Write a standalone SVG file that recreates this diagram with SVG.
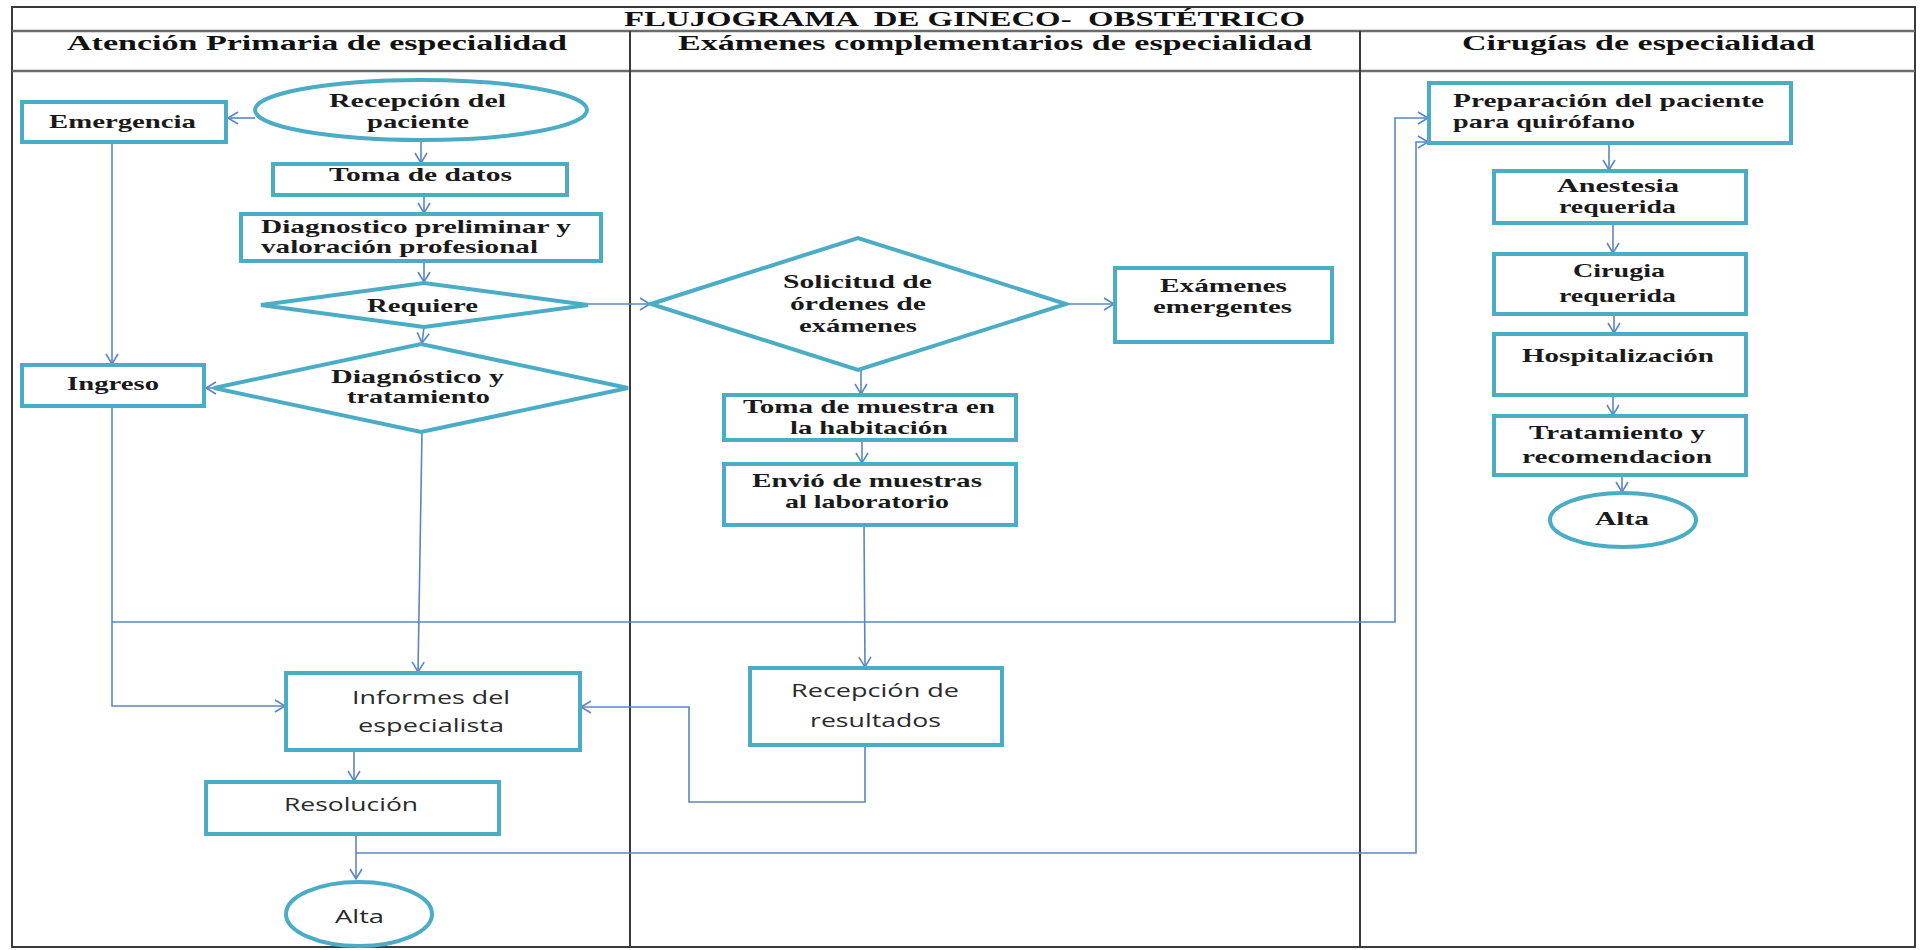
<svg xmlns="http://www.w3.org/2000/svg" width="1921" height="950" viewBox="0 0 1921 950">
<style>
.frame{fill:none;stroke:#3a3a3a;stroke-width:2}
.rule{stroke:#6b6b6b;stroke-width:2.5}
.node{fill:#fff;stroke:#4BACC6;stroke-width:4}
.con{fill:none;stroke:#5B86C5;stroke-width:1.6}
.t{font-family:"Liberation Serif","Times New Roman",serif;font-weight:bold;font-size:19px;fill:#1a1a1a}
.h{font-family:"Liberation Serif","Times New Roman",serif;font-weight:bold;font-size:20px;fill:#111}
.s{font-family:"Open Sans","Liberation Sans",sans-serif;font-size:19px;fill:#2a2a2a}
</style>
<defs>
<marker id="arr" markerUnits="userSpaceOnUse" markerWidth="14" markerHeight="14" refX="11" refY="7" orient="auto">
<path d="M1,1 L11,7 L1,13" fill="none" stroke="#5B86C5" stroke-width="1.6"/>
</marker>
</defs>
<rect width="1921" height="950" fill="#fff"/>
<g id="frame">
<rect class="frame" x="12" y="7" width="1903" height="940"/>
<line class="rule" x1="12" y1="31" x2="1915" y2="31"/>
<line class="rule" x1="12" y1="71" x2="1915" y2="71"/>
<line class="frame" x1="630" y1="31" x2="630" y2="947"/>
<line class="frame" x1="1360" y1="31" x2="1360" y2="947"/>
<text class="h" x="624" y="26" textLength="681" lengthAdjust="spacingAndGlyphs" style="white-space:pre">FLUJOGRAMA  DE GINECO-  OBSTÉTRICO</text>
<text class="h" x="67" y="50" textLength="500" lengthAdjust="spacingAndGlyphs">Atención Primaria de especialidad</text>
<text class="h" x="678" y="50" textLength="634" lengthAdjust="spacingAndGlyphs">Exámenes complementarios de especialidad</text>
<text class="h" x="1462" y="50" textLength="353" lengthAdjust="spacingAndGlyphs">Cirugías de especialidad</text>
</g>
<g id="connectors">
<path class="con" d="M255,118 L228,118" marker-end="url(#arr)"/>
<path class="con" d="M421,140 L421,163" marker-end="url(#arr)"/>
<path class="con" d="M424,195 L424,213" marker-end="url(#arr)"/>
<path class="con" d="M424,261 L424,282" marker-end="url(#arr)"/>
<path class="con" d="M588,304 L650,304" marker-end="url(#arr)"/>
<path class="con" d="M424,327 L422,343" marker-end="url(#arr)"/>
<path class="con" d="M214,388 L206,388" marker-end="url(#arr)"/>
<path class="con" d="M112,142 L112,364" marker-end="url(#arr)"/>
<path class="con" d="M112,406 L112,706 L285,706" marker-end="url(#arr)"/>
<path class="con" d="M112,622 L1395,622 L1395,118 L1428,118" marker-end="url(#arr)"/>
<path class="con" d="M422,432 L418,672" marker-end="url(#arr)"/>
<path class="con" d="M354,752 L354,781" marker-end="url(#arr)"/>
<path class="con" d="M356,834 L356,879" marker-end="url(#arr)"/>
<path class="con" d="M356,853 L1416,853 L1416,142 L1428,142" marker-end="url(#arr)"/>
<path class="con" d="M1066,304 L1114,304" marker-end="url(#arr)"/>
<path class="con" d="M861,370 L861,394" marker-end="url(#arr)"/>
<path class="con" d="M862,440 L862,463" marker-end="url(#arr)"/>
<path class="con" d="M864,525 L865,667" marker-end="url(#arr)"/>
<path class="con" d="M865,745 L865,802 L689,802 L689,707 L581,707" marker-end="url(#arr)"/>
<path class="con" d="M1609,143 L1609,170" marker-end="url(#arr)"/>
<path class="con" d="M1613,223 L1613,253" marker-end="url(#arr)"/>
<path class="con" d="M1614,314 L1614,333" marker-end="url(#arr)"/>
<path class="con" d="M1613,395 L1613,415" marker-end="url(#arr)"/>
<path class="con" d="M1622,475 L1622,492" marker-end="url(#arr)"/>
</g>
<g id="n-emergencia">
<rect class="node" x="22" y="102" width="204" height="40"/>
<text class="t" x="49" y="128" textLength="147" lengthAdjust="spacingAndGlyphs">Emergencia</text>
</g>
<g id="n-recepcion">
<ellipse class="node" cx="421" cy="110" rx="166" ry="30"/>
<text class="t" x="329" y="107" textLength="177" lengthAdjust="spacingAndGlyphs">Recepción del</text>
<text class="t" x="367" y="128" textLength="102" lengthAdjust="spacingAndGlyphs">paciente</text>
</g>
<g id="n-toma-datos">
<rect class="node" x="273" y="164" width="294" height="31"/>
<text class="t" x="329" y="181" textLength="183" lengthAdjust="spacingAndGlyphs">Toma de datos</text>
</g>
<g id="n-diagnostico-prel">
<rect class="node" x="241" y="214" width="360" height="47"/>
<text class="t" x="261" y="233" textLength="310" lengthAdjust="spacingAndGlyphs">Diagnostico preliminar y</text>
<text class="t" x="261" y="253" textLength="277" lengthAdjust="spacingAndGlyphs">valoración profesional</text>
</g>
<g id="n-requiere">
<polygon class="node" points="261,305 424,283 588,305 424,327"/>
<text class="t" x="367" y="312" textLength="111" lengthAdjust="spacingAndGlyphs">Requiere</text>
</g>
<g id="n-diag-trat">
<polygon class="node" points="214,388 421,344 628,388 421,432"/>
<text class="t" x="331" y="383" textLength="173" lengthAdjust="spacingAndGlyphs">Diagnóstico y</text>
<text class="t" x="347" y="403" textLength="143" lengthAdjust="spacingAndGlyphs">tratamiento</text>
</g>
<g id="n-ingreso">
<rect class="node" x="22" y="365" width="182" height="41"/>
<text class="t" x="67" y="390" textLength="92" lengthAdjust="spacingAndGlyphs">Ingreso</text>
</g>
<g id="n-informes">
<rect class="node" x="286" y="673" width="294" height="77"/>
<text class="s" x="352" y="704" textLength="158" lengthAdjust="spacingAndGlyphs">Informes del</text>
<text class="s" x="358" y="732" textLength="146" lengthAdjust="spacingAndGlyphs">especialista</text>
</g>
<g id="n-resolucion">
<rect class="node" x="206" y="782" width="293" height="52"/>
<text class="s" x="284" y="811" textLength="134" lengthAdjust="spacingAndGlyphs">Resolución</text>
</g>
<g id="n-alta1">
<ellipse class="node" cx="359" cy="914" rx="73" ry="32"/>
<text class="s" x="335" y="923" textLength="49" lengthAdjust="spacingAndGlyphs">Alta</text>
</g>
<g id="n-solicitud">
<polygon class="node" points="651,304 858,238 1066,304 858,370"/>
<text class="t" x="783" y="288" textLength="149" lengthAdjust="spacingAndGlyphs">Solicitud de</text>
<text class="t" x="790" y="310" textLength="136" lengthAdjust="spacingAndGlyphs">órdenes de</text>
<text class="t" x="799" y="332" textLength="118" lengthAdjust="spacingAndGlyphs">exámenes</text>
</g>
<g id="n-examenes-emerg">
<rect class="node" x="1115" y="268" width="217" height="74"/>
<text class="t" x="1160" y="292" textLength="127" lengthAdjust="spacingAndGlyphs">Exámenes</text>
<text class="t" x="1153" y="313" textLength="139" lengthAdjust="spacingAndGlyphs">emergentes</text>
</g>
<g id="n-toma-muestra">
<rect class="node" x="724" y="395" width="292" height="45"/>
<text class="t" x="743" y="413" textLength="252" lengthAdjust="spacingAndGlyphs">Toma de muestra en</text>
<text class="t" x="790" y="434" textLength="158" lengthAdjust="spacingAndGlyphs">la habitación</text>
</g>
<g id="n-envio">
<rect class="node" x="724" y="464" width="292" height="61"/>
<text class="t" x="752" y="487" textLength="230" lengthAdjust="spacingAndGlyphs">Envió de muestras</text>
<text class="t" x="785" y="508" textLength="164" lengthAdjust="spacingAndGlyphs">al laboratorio</text>
</g>
<g id="n-recepcion-res">
<rect class="node" x="750" y="668" width="252" height="77"/>
<text class="s" x="791" y="697" textLength="168" lengthAdjust="spacingAndGlyphs">Recepción de</text>
<text class="s" x="810" y="727" textLength="131" lengthAdjust="spacingAndGlyphs">resultados</text>
</g>
<g id="n-preparacion">
<rect class="node" x="1429" y="83" width="362" height="60"/>
<text class="t" x="1453" y="107" textLength="311" lengthAdjust="spacingAndGlyphs">Preparación del paciente</text>
<text class="t" x="1453" y="128" textLength="182" lengthAdjust="spacingAndGlyphs">para quirófano</text>
</g>
<g id="n-anestesia">
<rect class="node" x="1494" y="171" width="252" height="52"/>
<text class="t" x="1557" y="192" textLength="122" lengthAdjust="spacingAndGlyphs">Anestesia</text>
<text class="t" x="1559" y="213" textLength="117" lengthAdjust="spacingAndGlyphs">requerida</text>
</g>
<g id="n-cirugia">
<rect class="node" x="1494" y="254" width="252" height="60"/>
<text class="t" x="1573" y="277" textLength="92" lengthAdjust="spacingAndGlyphs">Cirugia</text>
<text class="t" x="1559" y="302" textLength="117" lengthAdjust="spacingAndGlyphs">requerida</text>
</g>
<g id="n-hospitalizacion">
<rect class="node" x="1494" y="334" width="252" height="61"/>
<text class="t" x="1522" y="362" textLength="192" lengthAdjust="spacingAndGlyphs">Hospitalización</text>
</g>
<g id="n-tratamiento">
<rect class="node" x="1494" y="416" width="252" height="59"/>
<text class="t" x="1529" y="439" textLength="176" lengthAdjust="spacingAndGlyphs">Tratamiento y</text>
<text class="t" x="1522" y="463" textLength="190" lengthAdjust="spacingAndGlyphs">recomendacion</text>
</g>
<g id="n-alta2">
<ellipse class="node" cx="1623" cy="520" rx="73" ry="27"/>
<text class="t" x="1595" y="525" textLength="54" lengthAdjust="spacingAndGlyphs">Alta</text>
</g>
</svg>
